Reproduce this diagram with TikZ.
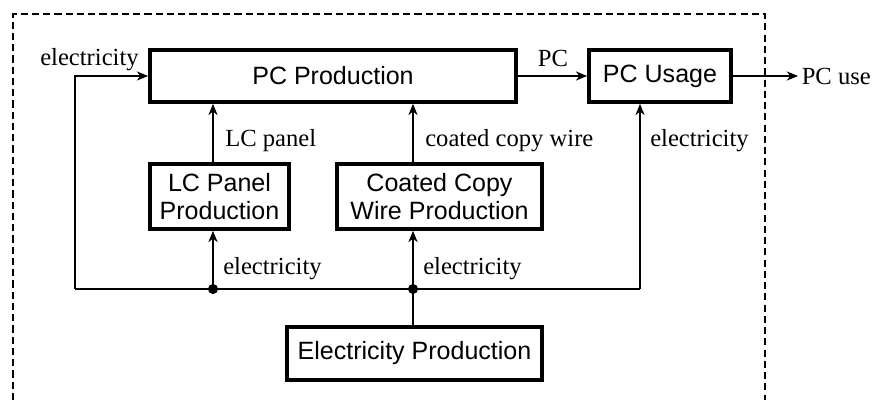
\documentclass[tikz,border=0pt]{standalone}
\usepackage{fontspec}
\setmainfont{Liberation Serif}
\setsansfont{Liberation Sans}
\usetikzlibrary{arrows.meta,calc}

\begin{document}
\begin{tikzpicture}[x=0.025cm,y=-0.025cm,
    proc/.style={draw,line width=2.6pt,font=\sffamily\fontsize{17.8}{20.5}\selectfont,align=center,inner sep=0pt},
    flow/.style={line width=1.1pt,-{Stealth[length=8pt,width=6.5pt,inset=2.5pt]}},
    wire/.style={line width=1.1pt},
    lbl/.style={font=\fontsize{17.5}{20}\selectfont,inner sep=0pt}]
    \useasboundingbox (0,0) rectangle (876,400);
    \draw[line width=1.1pt,dash pattern=on 5pt off 3pt] (13,400) -- (13,14) -- (765,14) -- (765,400);

    \node[proc,minimum width=9.15cm,minimum height=1.3cm] (pcprod) at (333,76) {PC Production};
    \node[proc,minimum width=3.55cm,minimum height=1.3cm] (pcuse) at (660,76) {PC Usage};
    \node[proc,minimum width=3.475cm,minimum height=1.625cm] (lcprod) at (219.5,196.5) {LC Panel\\Production};
    \node[proc,minimum width=5.125cm,minimum height=1.625cm] (wireprod) at (439.5,196.5) {Coated Copy\\Wire Production};
    \node[proc,minimum width=6.375cm,minimum height=1.325cm] (elprod) at (414.5,353.5) {Electricity Production};

    \coordinate (busL) at (75,289);
    \coordinate (busR) at (640,289);
    \coordinate (j1) at (213,289);
    \coordinate (j2) at (413,289);
    \coordinate (out) at (798,76);

    \draw[wire] (busL) -- (busR);
    \draw[wire] (elprod.north -| j2) -- (j2);
    \foreach \j in {j1,j2}
      \fill (\j) circle (3.6pt);
    \draw[flow] (busL) |- (pcprod.west);
    \draw[flow] (busR) -- (busR |- pcuse.south);
    \draw[flow] (j1) -- (j1 |- lcprod.south);
    \draw[flow] (j2) -- (j2 |- wireprod.south);
    \draw[flow] (j1 |- lcprod.north) -- (j1 |- pcprod.south);
    \draw[flow] (j2 |- wireprod.north) -- (j2 |- pcprod.south);
    \draw[flow] (pcprod.east) -- (pcuse.west);
    \draw[flow] (pcuse.east) -- (out);

    \node[lbl,anchor=base west] (l1) at (40,66) {electricity};
    \node[lbl,anchor=base] (l2) at (553,67) {PC};
    \node[lbl,anchor=west] (l3) at ([xshift=2.5pt]out) {PC use};
    \node[lbl,anchor=base west] (l4) at (225,147) {LC panel};
    \node[lbl,anchor=base west] (l5) at (425,147) {coated copy wire};
    \node[lbl,anchor=base west] (l6) at (650,147) {electricity};
    \node[lbl,anchor=base west] (l7) at (223,275) {electricity};
    \node[lbl,anchor=base west] (l8) at (423,275) {electricity};
\end{tikzpicture}
\end{document}
